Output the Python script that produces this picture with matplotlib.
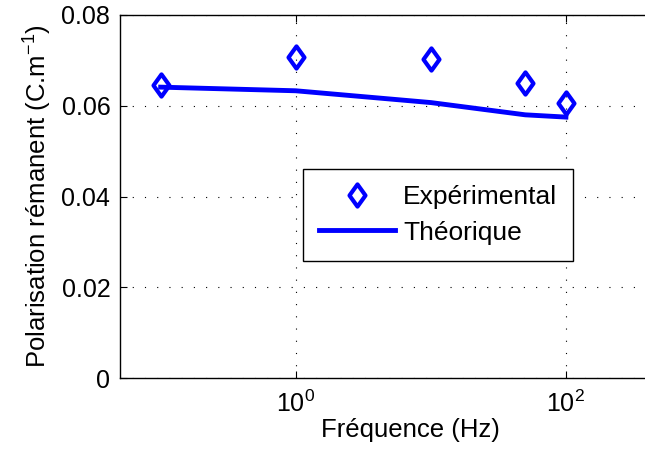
import matplotlib
matplotlib.use('Agg')
import matplotlib.pyplot as plt
from matplotlib.path import Path

plt.rcParams['font.family'] = ['Liberation Sans', 'DejaVu Sans']
plt.rcParams['mathtext.fontset'] = 'custom'
plt.rcParams['mathtext.rm'] = 'Liberation Sans'
plt.rcParams['mathtext.it'] = 'Liberation Sans:italic'
plt.rcParams['mathtext.bf'] = 'Liberation Sans:bold'

# donnees
freq = [0.1, 1, 10, 50, 100]  # Hz
p_exp = [0.0646, 0.0708, 0.0702, 0.0650, 0.0607]
p_theo = [0.0641, 0.0633, 0.0607, 0.0580, 0.0575]

# losange un peu plus large que 'd'
losange = Path([(0, 1), (0.72, 0), (0, -1), (-0.72, 0), (0, 1)],
               [Path.MOVETO, Path.LINETO, Path.LINETO, Path.LINETO, Path.CLOSEPOLY])

fig = plt.figure(figsize=(6.45, 4.59), dpi=100)
ax = fig.add_axes([120/645, 81/459, 581/645, 363/459])

ax.plot(freq, p_exp, linestyle='none', marker=losange, markersize=16,
        markerfacecolor='none', markeredgecolor='#0000ff', markeredgewidth=3,
        label='Expérimental')
ax.plot(freq, p_theo, color='#0000ff', linewidth=3.5, label='Théorique')

ax.set_xscale('log')
ax.set_xlim(0.05, 1000)
ax.set_ylim(0, 0.08)
ax.set_xticks([1, 100])
ax.set_xticklabels([r'$\mathregular{10^0}$', r'$\mathregular{10^2}$'])
ax.minorticks_off()
ax.set_yticks([0, 0.02, 0.04, 0.06, 0.08])
ax.set_yticklabels(['0', '0.02', '0.04', '0.06', '0.08'])
ax.tick_params(direction='in', length=5, width=0.8, labelsize=18, pad=7,
               top=True, right=True)
ax.tick_params(axis='x', pad=9)
ax.grid(True, color='black', linestyle=(0, (1, 10)), linewidth=0.8)
for s in ax.spines.values():
    s.set_linewidth(1.0)

ax.set_xlabel('Fréquence (Hz)', fontsize=18.5, labelpad=1)
ax.set_ylabel(r'Polarisation rémanent (C.m$^{\mathregular{-1}}$)', fontsize=18.5, labelpad=5)

leg = ax.legend(loc='upper left', bbox_to_anchor=(303/645, 1 - 169/459),
                bbox_transform=fig.transFigure, fontsize=19, fancybox=False,
                framealpha=1, edgecolor='black', handlelength=2.9,
                handletextpad=0.3, labelspacing=0.45, borderpad=0.6,
                borderaxespad=0)
leg.get_frame().set_linewidth(1.0)

fig.savefig('out.png', dpi=100)
